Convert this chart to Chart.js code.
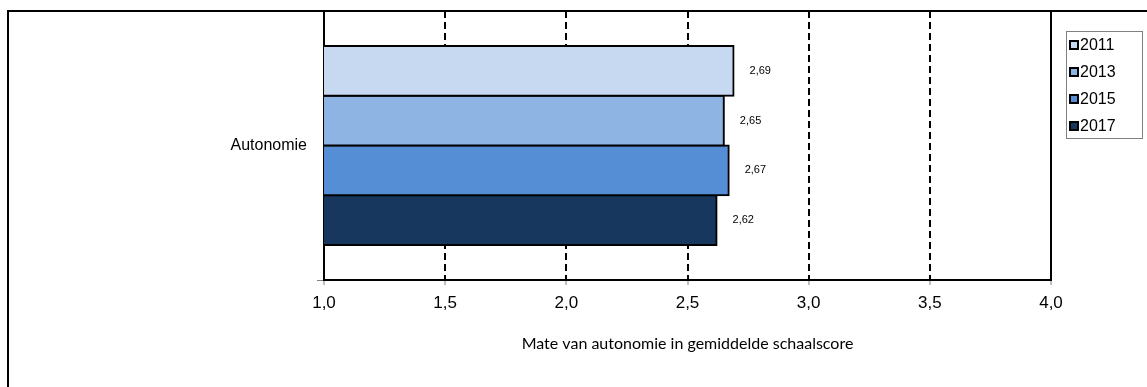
<!DOCTYPE html>
<html>
<head>
<meta charset="utf-8">
<script src="https://cdn.jsdelivr.net/npm/chart.js@4/dist/chart.umd.min.js"></script>
<style>
  html, body { margin: 0; padding: 0; background: #fff; }
  #wrap { position: relative; width: 1147px; height: 387px; }
  #frame { position: absolute; left: 7px; top: 10px; right: 0; bottom: 0;
           border-top: 2px solid #000; border-left: 2px solid #000; pointer-events: none; }
</style>
</head>
<body>
<div id="wrap">
  <canvas id="myChart" width="1147" height="387"></canvas>
  <div id="frame"></div>
</div>
<script>
// data
const categorieen = ["Autonomie"]
const jaren = ["2011", "2013", "2015", "2017"]
const score2011 = [2.69]
const score2013 = [2.65]
const score2015 = [2.67]
const score2017 = [2.62]
const xTicks = [1.0, 1.5, 2.0, 2.5, 3.0, 3.5, 4.0]
const asTitel = "Mate van autonomie in gemiddelde schaalscore"

const kleuren = ["#C6D9F1", "#8EB4E3", "#558ED5", "#17375E"]
const komma = v => v.toFixed(1).replace(".", ",")

// waarden naast de balken
const waardeLabels = {
  id: "waardeLabels",
  afterDatasetsDraw(chart) {
    const ctx = chart.ctx
    ctx.save()
    ctx.font = '11px "Liberation Sans", Arial, sans-serif'
    ctx.fillStyle = "#000"
    ctx.textBaseline = "middle"
    chart.data.datasets.forEach((ds, i) => {
      chart.getDatasetMeta(i).data.forEach((bar, j) => {
        ctx.fillText(ds.data[j].toFixed(2).replace(".", ","), bar.x + 16, bar.y)
      })
    })
    ctx.restore()
  }
}

// legenda rechtsboven met kader
const legendaKader = {
  id: "legendaKader",
  afterDraw(chart) {
    const ctx = chart.ctx
    ctx.save()
    ctx.strokeStyle = "#808080"
    ctx.lineWidth = 1
    ctx.strokeRect(1066.5, 31.5, 76, 107)
    ctx.font = '16px "Liberation Sans", Arial, sans-serif'
    ctx.textBaseline = "middle"
    chart.data.datasets.forEach((ds, i) => {
      const y = Math.round(45 + i * 27)
      ctx.fillStyle = ds.backgroundColor
      ctx.fillRect(1070, y - 4, 8, 8)
      ctx.strokeStyle = "#000"
      ctx.lineWidth = 2
      ctx.strokeRect(1070, y - 4, 8, 8)
      ctx.fillStyle = "#000"
      ctx.fillText(ds.label, 1080, y + 1)
    })
    ctx.restore()
  }
}

const dataset = (label, data, kleur) => ({
  label: label,
  data: data,
  backgroundColor: kleur,
  borderColor: "#000",
  borderWidth: 2,
  borderSkipped: false,
  inflateAmount: 1,
  barPercentage: 1,
  categoryPercentage: 0.74
})

// geen extra ruimte boven/onder voor de y-labels
const geenPadding = s => { s.paddingTop = 0; s.paddingBottom = 0 }

const grafiek = new Chart("myChart", {
  type: "bar",
  data: {
    labels: categorieen,
    datasets: [
      dataset(jaren[0], score2011, kleuren[0]),
      dataset(jaren[1], score2013, kleuren[1]),
      dataset(jaren[2], score2015, kleuren[2]),
      dataset(jaren[3], score2017, kleuren[3])
    ]
  },
  options: {
    indexAxis: "y",
    responsive: false,
    animation: false,
    layout: { padding: { left: 0, right: 96, top: 11, bottom: 34 } },
    plugins: {
      legend: { display: false },
      tooltip: { enabled: false }
    },
    scales: {
      x: {
        type: "linear",
        min: 1,
        max: 4,
        afterBuildTicks: s => { s.ticks = xTicks.map(v => ({ value: v })) },
        afterFit: s => { s.height = 73 },
        ticks: {
          color: "#000",
          padding: 8,
          font: { family: '"Liberation Sans", Arial, sans-serif', size: 17 },
          callback: v => komma(v)
        },
        grid: {
          color: c => (c.tick && (c.tick.value === 1 || c.tick.value === 4)) ? "rgba(0,0,0,0)" : "#000",
          lineWidth: 2,
          tickColor: "#808080",
          tickWidth: 1,
          tickLength: 5,
          tickBorderDash: []
        },
        border: { display: true, color: "#000", width: 2, dash: [7, 4] },
        title: {
          display: true,
          text: asTitel,
          color: "#000",
          font: { family: "Lato, Carlito, Calibri, sans-serif", size: 16 },
          padding: { top: 0, bottom: 0 }
        }
      },
      y: {
        type: "category",
        offset: true,
        afterFit: s => { s.width = 324; geenPadding(s) },
        ticks: {
          color: "#000",
          padding: 10,
          font: { family: '"Liberation Sans", Arial, sans-serif', size: 16 }
        },
        grid: {
          offset: true,
          drawOnChartArea: false,
          color: "#808080",
          tickLength: 7
        },
        border: { display: true, color: "#000", width: 2 }
      },
      y2: {
        type: "category",
        position: "right",
        offset: true,
        afterFit: s => { s.width = 0; geenPadding(s) },
        ticks: { display: false },
        grid: { display: false, drawTicks: false },
        border: { display: true, color: "#000", width: 2 }
      }
    }
  },
  plugins: [waardeLabels, legendaKader]
})
</script>
</body>
</html>
